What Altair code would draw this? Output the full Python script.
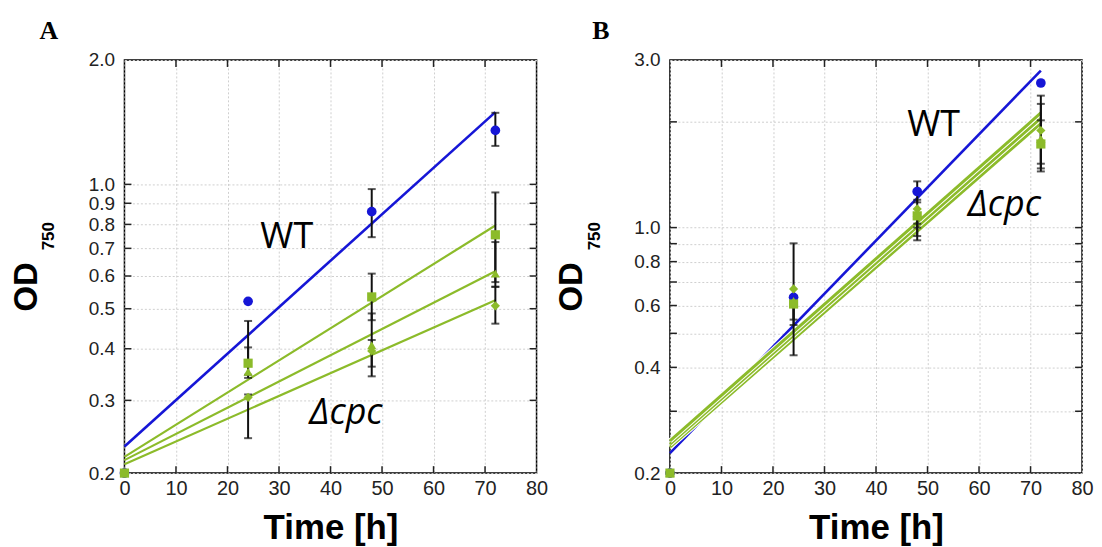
import altair as alt
import pandas as pd

# ---------------- data ----------------
times = [0, 24, 48, 72]
fit_t = [0, 72]

# Panel A measured OD750
a_wt = [0.2, 0.521, 0.859, 1.351]
a_sq = [0.2, 0.369, 0.534, 0.755]
a_tri = [0.2, 0.352, 0.408, 0.608]
a_dia = [0.2, 0.305, 0.395, 0.508]
# Panel A error bars (low / high)
a_wt_lo = [None, None, 0.745, 1.239]
a_wt_hi = [None, None, 0.974, 1.49]
a_sq_lo = [None, 0.346, 0.469, 0.565]
a_sq_hi = [None, 0.467, 0.608, 0.956]
a_tri_lo = [None, 0.34, 0.362, 0.58]
a_tri_hi = [None, 0.403, 0.487, 0.725]
a_dia_lo = [None, 0.243, 0.343, 0.46]
a_dia_hi = [None, 0.31, 0.42, 0.565]
# Panel A exponential fits (start, end)
a_fit_wt = [0.232, 1.496]
a_fit_sq = [0.219, 0.795]
a_fit_tri = [0.215, 0.616]
a_fit_dia = [0.210, 0.524]

# Panel B measured OD750
b_wt = [0.2, 0.633, 1.267, 2.58]
b_sq = [0.2, 0.606, 1.08, 1.73]
b_tri = [0.2, 0.618, 1.10, 1.79]
b_dia = [0.2, 0.669, 1.13, 1.89]
b_wt_lo = [None, None, 1.18, None]
b_wt_hi = [None, None, 1.354, None]
b_sq_lo = [None, 0.528, 0.92, 1.445]
b_sq_hi = [None, 0.62, 1.06, 2.02]
b_tri_lo = [None, 0.547, 0.946, 1.474]
b_tri_hi = [None, 0.64, 1.026, 2.25]
b_dia_lo = [None, 0.433, 1.0, 1.52]
b_dia_hi = [None, 0.902, 1.2, 2.375]
b_fit_wt = [0.228, 2.80]
b_fit_sq = [0.247, 2.12]
b_fit_tri = [0.242, 2.05]
b_fit_dia = [0.237, 1.98]

x_ticks = [0, 10, 20, 30, 40, 50, 60, 70, 80]
x_inner_ticks = [10, 20, 30, 40, 50, 60, 70]
a_y_grid = [0.2, 0.3, 0.4, 0.5, 0.6, 0.7, 0.8, 0.9, 1.0, 2.0]
a_y_labels = [0.2, 0.3, 0.4, 0.5, 0.6, 0.7, 0.8, 0.9, 1.0, 2.0]
b_y_grid = [0.2, 0.3, 0.4, 0.5, 0.6, 0.7, 0.8, 0.9, 1.0, 2.0, 3.0]
b_y_labels = [0.2, 0.4, 0.6, 0.8, 1.0, 3.0]

series = ["WT", "sq", "tri", "dia"]
shapes = {"WT": "circle", "sq": "square", "tri": "triangle-up", "dia": "diamond"}
BLUE = "#1616d6"
GREEN = "#8cbb2a"
colors = {"WT": BLUE, "sq": GREEN, "tri": GREEN, "dia": GREEN}

# annotation positions (data coordinates)
a_wt_label = (31.5, 0.701)
a_cpc_label = (43.0, 0.2635)
b_wt_label = (51.2, 1.817)
b_cpc_label = (64.9, 1.076)

W, H = 414, 415
FONT = "Liberation Sans"


def build_frames(vals, los, his, fits):
    pts, errs, lines = [], [], []
    order = ["WT", "tri", "dia", "sq"]
    for s in order:
        for i, t in enumerate(times):
            pts.append({"s": s, "t": t, "v": vals[s][i], "o": order.index(s)})
            if los[s][i] is not None:
                errs.append({"s": s, "t": t, "lo": los[s][i], "hi": his[s][i]})
        for j, t in enumerate(fit_t):
            lines.append({"s": s, "t": t, "v": fits[s][j]})
    return pd.DataFrame(pts), pd.DataFrame(errs), pd.DataFrame(lines)


def panel(letter, ymax, grid_vals, label_vals, vals, los, his, fits, wt_pos, cpc_pos, outline):
    pts, errs, lines = build_frames(vals, los, his, fits)
    xs = alt.Scale(domain=[0, 80], nice=False, zero=False)
    ys = alt.Scale(type="log", domain=[0.2, ymax], nice=False)
    label_set = ",".join(str(int(round(v * 10))) for v in label_vals)
    x_enc = alt.X("t:Q", scale=xs, axis=alt.Axis(
        values=x_ticks, title="Time [h]", titleFont=FONT, titleFontSize=35,
        titleFontWeight="bold", titleColor="black", titleY=66, titleBaseline="alphabetic",
        labelFont=FONT, labelFontSize=20, labelColor="#222", labelPadding=6,
        labelOverlap=False,
        ticks=False, domain=False, grid=True, gridColor="#cfcfcf", gridDash=[2, 2],
        gridWidth=1, labelFlush=False))
    y_enc = alt.Y("v:Q", scale=ys, axis=alt.Axis(
        values=grid_vals, title=None, format=".1f",
        labelExpr=f"indexof([{label_set}], round(datum.value*10)) >= 0 ? format(datum.value, '.1f') : ''",
        labelFont=FONT, labelFontSize=19, labelColor="#222", labelPadding=10,
        labelOverlap=False,
        ticks=False, domain=False, grid=True, gridColor="#cfcfcf", gridDash=[2, 2],
        gridWidth=1, labelFlush=False))

    layers = []
    # inward ticks
    xt = pd.DataFrame({"t": x_inner_ticks})
    yt = pd.DataFrame({"v": grid_vals[1:-1]})
    layers.append(alt.Chart(xt).mark_rule(color="#222", strokeWidth=1.5).encode(
        x=alt.X("t:Q", scale=xs), y=alt.value(0), y2=alt.value(7)))
    layers.append(alt.Chart(xt).mark_rule(color="#222", strokeWidth=1.5).encode(
        x=alt.X("t:Q", scale=xs), y=alt.value(H - 7), y2=alt.value(H)))
    layers.append(alt.Chart(yt).mark_rule(color="#222", strokeWidth=1.5).encode(
        y=alt.Y("v:Q", scale=ys), x=alt.value(0), x2=alt.value(7)))
    layers.append(alt.Chart(yt).mark_rule(color="#222", strokeWidth=1.5).encode(
        y=alt.Y("v:Q", scale=ys), x=alt.value(W - 7), x2=alt.value(W)))

    # base layer carrying axes
    base = alt.Chart(lines).mark_line(strokeWidth=0, opacity=0).encode(
        x=x_enc, y=y_enc, detail="s:N")
    layers.insert(0, base)

    # fit lines
    for s in ["WT", "dia", "tri", "sq"]:
        d = lines[lines.s == s]
        if outline and s != "WT":
            layers.append(alt.Chart(d).mark_line(color="white", strokeWidth=5).encode(
                x=alt.X("t:Q", scale=xs), y=alt.Y("v:Q", scale=ys)))
            layers.append(alt.Chart(d).mark_line(color=GREEN, strokeWidth=3).encode(
                x=alt.X("t:Q", scale=xs), y=alt.Y("v:Q", scale=ys)))
        else:
            layers.append(alt.Chart(d).mark_line(
                color=colors[s], strokeWidth=2.6 if s == "WT" else 2.2).encode(
                x=alt.X("t:Q", scale=xs), y=alt.Y("v:Q", scale=ys)))

    # error bars
    layers.append(alt.Chart(errs).mark_rule(color="#111", strokeWidth=2).encode(
        x=alt.X("t:Q", scale=xs), y=alt.Y("lo:Q", scale=ys), y2="hi:Q"))
    layers.append(alt.Chart(errs).mark_tick(color="#111", orient="horizontal", size=8, thickness=2).encode(
        x=alt.X("t:Q", scale=xs), y=alt.Y("lo:Q", scale=ys)))
    layers.append(alt.Chart(errs).mark_tick(color="#111", orient="horizontal", size=8, thickness=2).encode(
        x=alt.X("t:Q", scale=xs), y=alt.Y("hi:Q", scale=ys)))

    # points
    for s in ["WT", "tri", "dia", "sq"]:
        d = pts[pts.s == s]
        layers.append(alt.Chart(d).mark_point(
            shape=shapes[s], filled=True, opacity=1, color=colors[s],
            size=95 if s == "WT" else 85).encode(
            x=alt.X("t:Q", scale=xs), y=alt.Y("v:Q", scale=ys)))

    # annotations
    ann = pd.DataFrame({"t": [wt_pos[0]], "v": [wt_pos[1]], "txt": ["WT"]})
    layers.append(alt.Chart(ann).mark_text(font="Open Sans", fontSize=36, color="black",
                                           align="center", baseline="alphabetic").encode(
        x=alt.X("t:Q", scale=xs), y=alt.Y("v:Q", scale=ys), text="txt:N"))
    ann2 = pd.DataFrame({"t": [cpc_pos[0]], "v": [cpc_pos[1]], "txt": ["Δcpc"]})
    layers.append(alt.Chart(ann2).mark_text(font="Open Sans", fontSize=36, fontStyle="italic",
                                            color="black", align="center", baseline="alphabetic").encode(
        x=alt.X("t:Q", scale=xs), y=alt.Y("v:Q", scale=ys), text="txt:N"))

    one = pd.DataFrame({"k": [0]})
    layers.append(alt.Chart(one).mark_text(text="OD", angle=270, font=FONT, fontWeight="bold",
                                           fontSize=33, color="black", align="center",
                                           baseline="middle").encode(
        x=alt.value(-98), y=alt.value(228)))
    layers.append(alt.Chart(one).mark_text(text="750", angle=270, font=FONT, fontWeight="bold",
                                           fontSize=17, color="black", align="center",
                                           baseline="middle").encode(
        x=alt.value(-75.5), y=alt.value(177)))
    layers.append(alt.Chart(one).mark_text(text=letter, font="Liberation Serif", fontWeight="bold",
                                           fontSize=26, color="black", align="center",
                                           baseline="middle").encode(
        x=alt.value(-76 if letter == "A" else -69.5), y=alt.value(-29.5)))

    return alt.layer(*layers).properties(width=W, height=H)


a_vals = {"WT": a_wt, "sq": a_sq, "tri": a_tri, "dia": a_dia}
a_los = {"WT": a_wt_lo, "sq": a_sq_lo, "tri": a_tri_lo, "dia": a_dia_lo}
a_his = {"WT": a_wt_hi, "sq": a_sq_hi, "tri": a_tri_hi, "dia": a_dia_hi}
a_fits = {"WT": a_fit_wt, "sq": a_fit_sq, "tri": a_fit_tri, "dia": a_fit_dia}

b_vals = {"WT": b_wt, "sq": b_sq, "tri": b_tri, "dia": b_dia}
b_los = {"WT": b_wt_lo, "sq": b_sq_lo, "tri": b_tri_lo, "dia": b_dia_lo}
b_his = {"WT": b_wt_hi, "sq": b_sq_hi, "tri": b_tri_hi, "dia": b_dia_hi}
b_fits = {"WT": b_fit_wt, "sq": b_fit_sq, "tri": b_fit_tri, "dia": b_fit_dia}

pa = panel("A", 2.0, a_y_grid, a_y_labels, a_vals, a_los, a_his, a_fits,
           a_wt_label, a_cpc_label, outline=False)
pb = panel("B", 3.0, b_y_grid, b_y_labels, b_vals, b_los, b_his, b_fits,
           b_wt_label, b_cpc_label, outline=True)

chart = alt.hconcat(pa, pb, spacing=7).properties(
    padding={"left": 2, "top": 7, "right": 0, "bottom": 0},
    background="white",
).configure_view(stroke="black", strokeWidth=1.5)

chart.save("out.html", embed_options={"renderer": "svg", "actions": False})
